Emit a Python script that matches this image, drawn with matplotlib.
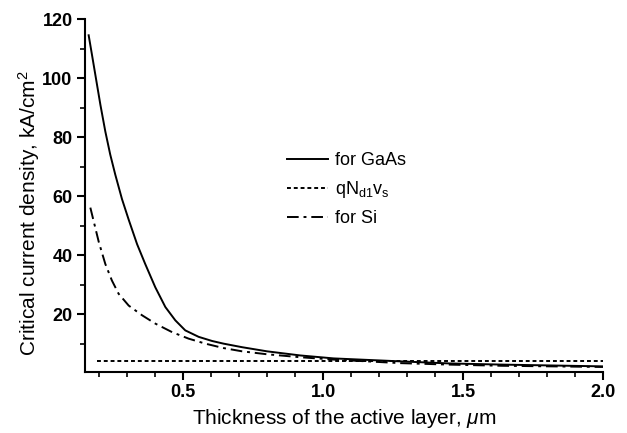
import matplotlib
matplotlib.use("Agg")
import matplotlib.pyplot as plt
from matplotlib.ticker import MultipleLocator

# Data
gaas_x = [0.163, 0.175, 0.189, 0.205, 0.2225, 0.240, 0.258, 0.282, 0.306, 0.336,
          0.365, 0.401, 0.437, 0.4725, 0.508, 0.556, 0.604, 0.645, 0.711, 0.8,
          0.919, 1.038, 1.157, 1.276, 1.45, 1.64, 1.82, 2.0]
gaas_y = [114.5, 107.8, 99.9, 90.9, 81.9, 74.1, 67.3, 59.0, 52.0, 43.7,
          37.0, 29.1, 22.4, 17.9, 14.5, 12.3, 10.9, 10.0, 8.8, 7.4,
          6.0, 5.0, 4.5, 4.0, 3.3, 2.9, 2.6, 2.3]
si_x = [0.169, 0.199, 0.2225, 0.246, 0.270, 0.306, 0.354, 0.401, 0.461, 0.52,
        0.58, 0.645, 0.711, 0.8, 0.919, 1.038, 1.157, 1.276, 1.45, 1.64, 1.82, 2.0]
si_y = [56.1, 44.5, 37.0, 31.4, 26.9, 22.9, 19.6, 16.8, 13.9, 11.7,
        10.0, 8.5, 7.4, 6.4, 5.4, 4.6, 4.0, 3.4, 2.9, 2.5, 2.3, 2.1]
qn_x = [0.193, 2.0]
qn_y = [4.05, 4.05]

x_ticks = [0.5, 1.0, 1.5, 2.0]
y_ticks = [20, 40, 60, 80, 100, 120]

plt.rcParams['font.family'] = ['Liberation Sans', 'DejaVu Sans']
plt.rcParams['mathtext.fontset'] = 'custom'
plt.rcParams['mathtext.rm'] = 'Liberation Sans'
plt.rcParams['mathtext.it'] = 'Liberation Sans:italic'

fig = plt.figure(figsize=(6.27, 4.33), dpi=100)
ax = fig.add_axes([0.1356, 0.1416, 0.9617 - 0.1356, 0.956 - 0.1416])

kw = dict(color='black', lw=1.4, solid_joinstyle='round', dash_joinstyle='round')
ax.plot(gaas_x, gaas_y, ls='-', label='for GaAs', **kw)
ax.plot(qn_x, qn_y, ls=(0, (2.0, 1.5)), label=r'qN$_{\mathregular{d1}}$v$_{\mathregular{s}}$', **kw)
ax.plot(si_x, si_y, ls=(0, (6, 2.5, 1.5, 2.5)), label='for Si', **kw)

ax.set_xlim(0.15, 2.0)
ax.set_ylim(0.5, 120)
ax.set_xticks(x_ticks)
ax.set_xticklabels([f'{v:.1f}' for v in x_ticks])
ax.set_yticks(y_ticks)
ax.set_yticklabels([str(v) for v in y_ticks])
ax.xaxis.set_minor_locator(MultipleLocator(0.1))
ax.yaxis.set_minor_locator(MultipleLocator(10))

for s in ['top', 'right']:
    ax.spines[s].set_visible(False)
for s in ['left', 'bottom']:
    ax.spines[s].set_linewidth(1.5)
ax.tick_params(which='major', direction='out', length=6, width=1.5, labelsize=13, pad=3)
ax.tick_params(which='minor', direction='out', length=3.5, width=1.2)
for lbl in ax.get_xticklabels() + ax.get_yticklabels():
    lbl.set_fontweight('bold')

ax.set_xlabel(r'Thickness of the active layer, $\mu$m', fontsize=15)
ax.set_ylabel(r'Critical current density, kA/cm$^2$', fontsize=15)
ax.xaxis.set_label_coords(0.5, -0.10)
ax.yaxis.set_label_coords(-0.083, 0.449)

leg = ax.legend(loc='upper left', bbox_to_anchor=(0.389, 0.623), frameon=False,
                fontsize=13, handlelength=2.3, handletextpad=0.4, labelspacing=0.55,
                borderaxespad=0, borderpad=0)

fig.savefig('out.png', dpi=100)
